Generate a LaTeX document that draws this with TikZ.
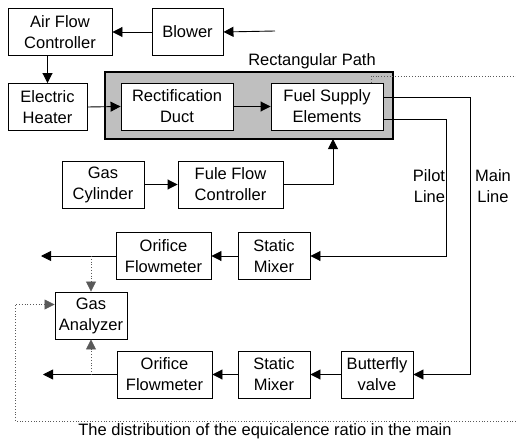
\documentclass[tikz,border=0pt]{standalone}
\usepackage{fontspec}
\setmainfont{Liberation Sans}
\usetikzlibrary{arrows.meta,positioning,calc}

\tikzset{
  blk/.style={draw, fill=white, line width=0.9pt, align=center,
    inner sep=0pt, minimum height=47pt},
  flow/.style={draw, line width=0.9pt, -{Triangle[length=10pt,width=10pt]}},
  probe/.style={draw, gray!70!black, line width=0.8pt, dotted},
  probearr/.style={probe, -{Triangle[length=10pt,width=10pt]}},
}

\begin{document}
\begin{tikzpicture}[x=1pt, y=-1pt, font=\fontsize{16.5}{21}\selectfont]

  \useasboundingbox (0,0) rectangle (516,441);

  % Air side
  \node[blk, minimum width=104pt] (afc) at (60,32) {Air Flow\\Controller};
  \node[blk, minimum width=71pt] (blower) at (187.5,32) {Blower};
  \node[blk, minimum width=79pt] (heater) at (47.5,107) {Electric\\Heater};

  % Rectangular path with duct and fuel supply
  \node[draw, fill=gray!50, line width=1.3pt, minimum width=288pt,
    minimum height=67pt, inner sep=0pt] (duct) at (249,105.5) {};
  \node (ductlabel) at (312,61) {Rectangular Path};
  \node[blk, minimum width=112pt] (rect) at (177,106.5) {Rectification\\Duct};
  \node[blk, minimum width=112pt] (fse) at (327,106.5) {Fuel Supply\\Elements};

  % Fuel side
  \node[blk, minimum width=82pt] (cyl) at (103,184.5) {Gas\\Cylinder};
  \node[blk, minimum width=105pt] (ffc) at (230.5,184.5) {Fule Flow\\Controller};

  % Pilot line
  \node[blk, minimum width=72pt] (mixA) at (274,256) {Static\\Mixer};
  \node[blk, minimum width=95pt] (orifA) at (163.5,256) {Orifice\\Flowmeter};

  % Main line
  \node[blk, minimum width=72pt] (valve) at (377,374.5) {Butterfly\\valve};
  \node[blk, minimum width=72pt] (mixB) at (274,374.5) {Static\\Mixer};
  \node[blk, minimum width=95pt] (orifB) at (164.5,374.5) {Orifice\\Flowmeter};

  \node[blk, minimum width=72pt] (gas) at (91,315.5) {Gas\\Analyzer};

  \node[align=right] (pilotlabel) at (429,186) {Pilot\\Line};
  \node[align=center] (mainlabel) at (493,186) {Main\\Line};
  \node (caption) at (265,431) {The distribution of the equicalence ratio in the main};

  % Turning points
  \coordinate (air) at (275,31);
  \coordinate (fuelin) at (333,139);
  \coordinate (pilotdown) at (446,256);
  \coordinate (maindown) at (470,374.5);
  \coordinate (outA) at (41,256);
  \coordinate (outB) at (43,374.5);
  \coordinate (sampR) at (516,421);
  \coordinate (sampL) at (15,421);
  \coordinate (topR) at (516,76);

  % Arrows
  \path[flow]
    (air) -- (blower.east);
  \path[flow] (blower.west) -- (afc.west -| afc.east);
  \path[flow] (afc.south -| heater.north) -- (heater.north);
  \path[flow] (heater.east) -- (rect.west);
  \path[flow] (rect.east) -- (fse.west);
  \path[flow] (cyl.east) -- (ffc.west);
  \path[flow] (ffc.east) -| (fuelin);
  \path[flow] ([yshift=-12.5pt]fse.east) -| (pilotdown) -- (mixA.east);
  \path[flow] ([yshift=9.5pt]fse.east) -| (maindown) -- (valve.east);
  \path[flow] (mixA.west) -- (orifA.east);
  \path[flow] (orifA.west) -- (outA);
  \path[flow] (valve.west) -- (mixB.east);
  \path[flow] (mixB.west) -- (orifB.east);
  \path[flow] (orifB.west) -- (outB);

  % Sampling lines
  \path[probearr] (gas.north |- orifA.west) -- (gas.north);
  \path[probearr] (gas.south |- orifB.west) -- (gas.south);
  \path[probearr] (sampR) -- (sampL) |- ([yshift=11pt]gas.west);
  \path[probe] ([xshift=44pt]fse.north) |- (topR);

\end{tikzpicture}
\end{document}
